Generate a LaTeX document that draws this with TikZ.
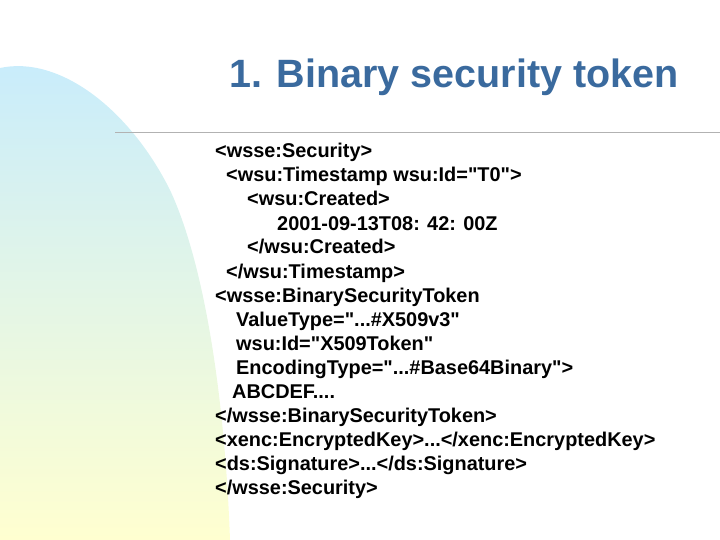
\documentclass[tikz,border=0pt]{standalone}
\usepackage{fontspec}
\setmainfont{Liberation Sans}[Ligatures=TeXReset]
\definecolor{titleblue}{HTML}{3A6A9E}
\definecolor{skyblue}{HTML}{C8ECFC}
\definecolor{paleyellow}{HTML}{FFFFD0}
\tikzset{%
  codeline/.style = {anchor=base west, inner sep=0pt,%
                     font=\fontsize{19.9}{20}\selectfont\bfseries},%
  slidetitle/.style = {font=\fontsize{39.5}{40}\selectfont\bfseries,%
                       text=titleblue}%
}
\begin{document}
\begin{tikzpicture}[x=1pt,y=-1pt]
	\useasboundingbox (0,0) rectangle (720,540);
	% background swoosh
	\shade[top color=skyblue, bottom color=paleyellow]
		(0,68) .. controls (60,55) and (130,110) .. (170,190)
		.. controls (205,265) and (225,400) .. (230,540) -- (0,540) -- cycle;
	\draw[gray!60, line width=1pt] (115,133) -- (720,133);
	\node[slidetitle] (title) at (454,77) {1. Binary security token};
	% code listing
	\node[codeline] (l1) at (215,158) {<wsse:Security>};
	\node[codeline] (l2) at (226,182) {<wsu:Timestamp wsu:Id="T0">};
	\node[codeline] (l3) at (247,206) {<wsu:Created>};
	\node[codeline] (l4) at (277,230) {2001-09-13T08: 42: 00Z};
	\node[codeline] (l5) at (247,254) {</wsu:Created>};
	\node[codeline] (l6) at (226,278) {</wsu:Timestamp>};
	\node[codeline] (l7) at (215,302) {<wsse:BinarySecurityToken};
	\node[codeline] (l8) at (236,326) {ValueType="...\#X509v3"};
	\node[codeline] (l9) at (236,350) {wsu:Id="X509Token"};
	\node[codeline] (l10) at (236,374) {EncodingType="...\#Base64Binary">};
	\node[codeline] (l11) at (232,398) {ABCDEF....};
	\node[codeline] (l12) at (215,422) {</wsse:BinarySecurityToken>};
	\node[codeline] (l13) at (215,446) {<xenc:EncryptedKey>...</xenc:EncryptedKey>};
	\node[codeline] (l14) at (215,470) {<ds:Signature>...</ds:Signature>};
	\node[codeline] (l15) at (215,494) {</wsse:Security>};
\end{tikzpicture}
\end{document}
